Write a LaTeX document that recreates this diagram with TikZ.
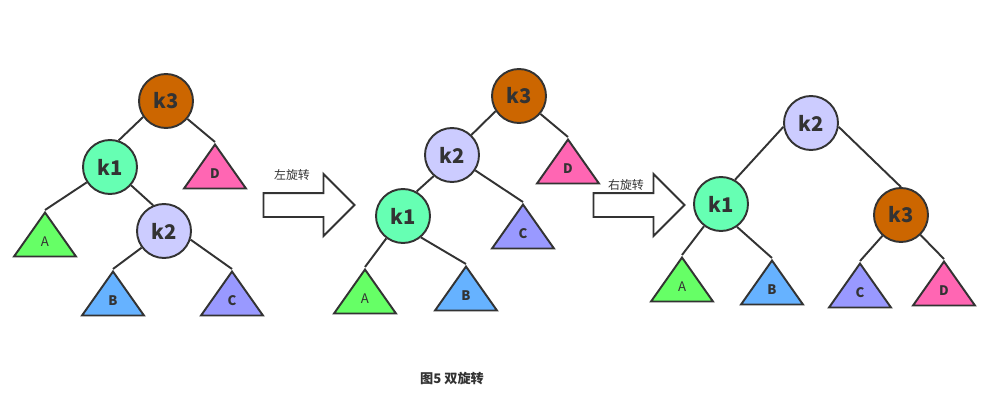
\documentclass[tikz,border=0pt]{standalone}
\usepackage{fontspec}
\setmainfont{Noto Sans CJK SC}
\usetikzlibrary{shapes.geometric,shapes.arrows}
\definecolor{linec}{HTML}{333333}
\definecolor{kthree}{HTML}{CC6600}
\definecolor{kone}{HTML}{66FFB3}
\definecolor{ktwo}{HTML}{CCCCFF}
\definecolor{ta}{HTML}{66FF66}
\definecolor{tb}{HTML}{66B2FF}
\definecolor{tc}{HTML}{9999FF}
\definecolor{td}{HTML}{FF66B3}
\tikzset{
  keynode/.style={circle, draw=linec, line width=1.1pt, minimum size=1.08cm, inner sep=0pt, text=linec, font=\fontsize{11.5}{12}\selectfont\bfseries},
  subtree/.style={isosceles triangle, isosceles triangle stretches, shape border rotate=90, anchor=apex, draw=linec, line width=1.1pt, minimum width=1.24cm, minimum height=0.88cm, inner sep=0pt, text=linec, font=\fontsize{7.5}{8}\selectfont\bfseries},
  thin/.style={font=\fontsize{7.5}{8}\selectfont},
  edge/.style={draw=linec, line width=1.1pt},
  turn/.style={single arrow, draw=linec, line width=1.1pt, fill=white, minimum height=1.82cm, minimum width=1.2cm, text height=0.44cm, text depth=0pt, text width=0pt, single arrow head extend=0.38cm, single arrow head indent=0pt, inner sep=0pt},
  note/.style={text=linec, font=\fontsize{6.8}{8}\selectfont}
}
\begin{document}
\begin{tikzpicture}[x=0.02cm,y=-0.02cm]
\useasboundingbox (0,0) rectangle (994,419);

\node[keynode, fill=kthree] (lk3) at (166,101) {k3};
\node[keynode, fill=kone] (lk1) at (110,167) {k1};
\node[keynode, fill=ktwo] (lk2) at (164,231) {k2};
\node[subtree, fill=td] (lD) at (215,142) {D};
\node[subtree, thin, fill=ta] (lA) at (45,210) {A};
\node[subtree, fill=tb] (lB) at (113,269) {B};
\node[subtree, fill=tc] (lC) at (232,269) {C};
\draw[edge] (lk3.215) -- (lk1.72);
\draw[edge] (lk3) -- (lD.apex);
\draw[edge] (lk1) -- (lA.apex);
\draw[edge] (lk1.-41) -- (lk2.113);
\draw[edge] (lk2) -- (lB.apex);
\draw[edge] (lk2.-18) -- (lC.apex);

\node[turn] (turnl) at (303,205) {};
\node[note] (notel) at (292,175) {左旋转};

\node[keynode, fill=kthree] (mk3) at (519,96) {k3};
\node[keynode, fill=ktwo] (mk2) at (452,155) {k2};
\node[keynode, fill=kone] (mk1) at (403,216) {k1};
\node[subtree, fill=td] (mD) at (568,137) {D};
\node[subtree, fill=tc] (mC) at (523,202) {C};
\node[subtree, thin, fill=ta] (mA) at (365,267) {A};
\node[subtree, fill=tb] (mB) at (466,264) {B};
\draw[edge] (mk3.213) -- (mk2.46);
\draw[edge] (mk3) -- (mD.apex);
\draw[edge] (mk2.229) -- (mk1.61);
\draw[edge] (mk2) -- (mC.apex);
\draw[edge] (mk1) -- (mA.apex);
\draw[edge] (mk1.-50) -- (mB.apex);

\node[turn] (turnr) at (633,205) {};
\node[note] (noter) at (626,185) {右旋转};

\node[keynode, fill=ktwo] (rk2) at (811,123) {k2};
\node[keynode, fill=kone] (rk1) at (721,204) {k1};
\node[keynode, fill=kthree] (rk3) at (901,215) {k3};
\node[subtree, thin, fill=ta] (rA) at (682,255) {A};
\node[subtree, fill=tb] (rB) at (772,258) {B};
\node[subtree, fill=tc] (rC) at (860,261) {C};
\node[subtree, fill=td] (rD) at (944,259) {D};
\draw[edge] (rk2.188) -- (rk1.60);
\draw[edge] (rk2.-8) -- (rk3.north);
\draw[edge] (rk1) -- (rA.apex);
\draw[edge] (rk1.-55) -- (rB.apex);
\draw[edge] (rk3) -- (rC.apex);
\draw[edge] (rk3) -- (rD.apex);

\node[text=linec, font=\fontsize{7.5}{9}\selectfont\bfseries] (title) at (452,379) {图5 双旋转};
\end{tikzpicture}
\end{document}
